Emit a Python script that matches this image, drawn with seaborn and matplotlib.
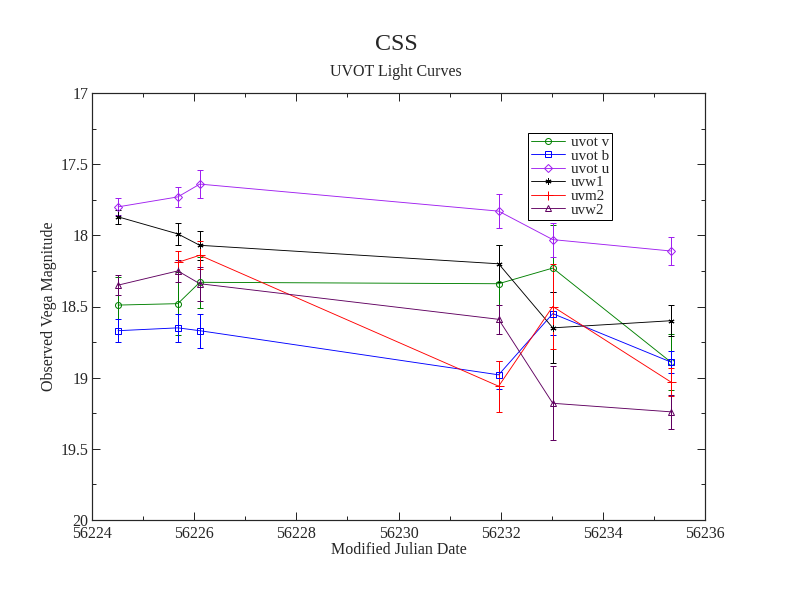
import matplotlib
matplotlib.use("Agg")
import matplotlib.pyplot as plt
from matplotlib.lines import Line2D
import seaborn as sns
import numpy as np

mjd = [56224.51, 56225.68, 56226.11, 56231.96, 56233.02, 56235.33]

uvot_v = [18.49, 18.48, 18.33, 18.34, 18.23, 18.89]
uvot_v_err = [0.20, 0.22, 0.18, 0.27, 0.30, 0.20]
uvot_b = [18.67, 18.65, 18.67, 18.98, 18.55, 18.89]
uvot_b_err = [0.08, 0.10, 0.12, 0.10, 0.15, 0.08]
uvot_u = [17.80, 17.73, 17.64, 17.83, 18.03, 18.11]
uvot_u_err = [0.06, 0.07, 0.10, 0.12, 0.12, 0.10]
uvw1 = [17.87, 17.99, 18.07, 18.20, 18.65, 18.60]
uvw1_err = [0.05, 0.08, 0.10, 0.13, 0.25, 0.11]
uvm2_mjd = [56225.68, 56226.11, 56231.96, 56233.02, 56235.33]
uvm2 = [18.19, 18.14, 19.06, 18.50, 19.03]
uvm2_err = [0.08, 0.10, 0.18, 0.30, 0.10]
uvw2 = [18.35, 18.25, 18.34, 18.59, 19.18, 19.24]
uvw2_err = [0.07, 0.08, 0.12, 0.10, 0.26, 0.12]

sns.set_style("ticks")
plt.rcParams['font.family'] = ['Liberation Serif', 'DejaVu Serif']

fig = plt.figure(figsize=(11, 8.5), dpi=72)
ax = fig.add_axes([92/792, 1-520/612, 613/792, 427/612])

series = [
    ("uvot v", mjd, uvot_v, uvot_v_err, "green", "o"),
    ("uvot b", mjd, uvot_b, uvot_b_err, "blue", "s"),
    ("uvot u", mjd, uvot_u, uvot_u_err, "#a020f0", "D"),
    ("uvw1", mjd, uvw1, uvw1_err, "black", (6, 2, 0)),
    ("uvm2", uvm2_mjd, uvm2, uvm2_err, "red", "+"),
    ("uvw2", mjd, uvw2, uvw2_err, "#600060", "^"),
]
handles = []
for name, x, y, e, c, m in series:
    ms = 5 if m == "D" else 6
    if m == "+":
        ms = 9
    ax.errorbar(x, y, yerr=e, color=c, marker=m, mfc="none", ms=ms, lw=0.9,
                elinewidth=1, capsize=3)
    handles.append(Line2D([], [], color=c, marker=m, mfc="none", ms=ms, lw=0.9, label=name))

ax.set_xlim(56224, 56236)
ax.set_ylim(20, 17)
ax.set_xticks(np.arange(56224, 56237, 2))
ax.set_xticks(np.arange(56224, 56237, 1), minor=True)
ax.set_yticks(np.arange(17, 20.01, 0.5))
ax.set_yticks(np.arange(17, 20.01, 0.25), minor=True)
ax.set_yticklabels(["17", "17.5", "18", "18.5", "19", "19.5", "20"])
ax.tick_params(direction="in", which="both", top=True, right=True, labelsize=16, length=8, width=1)
ax.tick_params(axis="x", pad=6)
ax.tick_params(which="minor", length=4)
for s in ax.spines.values():
    s.set_linewidth(1.2)
ax.set_xlabel("Modified Julian Date", fontsize=16, labelpad=0)
ax.set_ylabel("Observed Vega Magnitude", fontsize=16)
fig.text(0.5, 1-45/612, "CSS", ha="center", va="center", fontsize=24)
fig.text(0.5, 1-72/612, "UVOT Light Curves", ha="center", va="center", fontsize=16)
leg = ax.legend(handles=handles, loc="upper left", bbox_to_anchor=((520-92)/613, (520-125)/427),
                fontsize=15, frameon=True, fancybox=False, edgecolor="black", framealpha=1,
                borderpad=0.2, labelspacing=0.0, handlelength=2.3, handletextpad=0.4)
leg.get_frame().set_linewidth(1)

fig.savefig("out.png", dpi=72)
